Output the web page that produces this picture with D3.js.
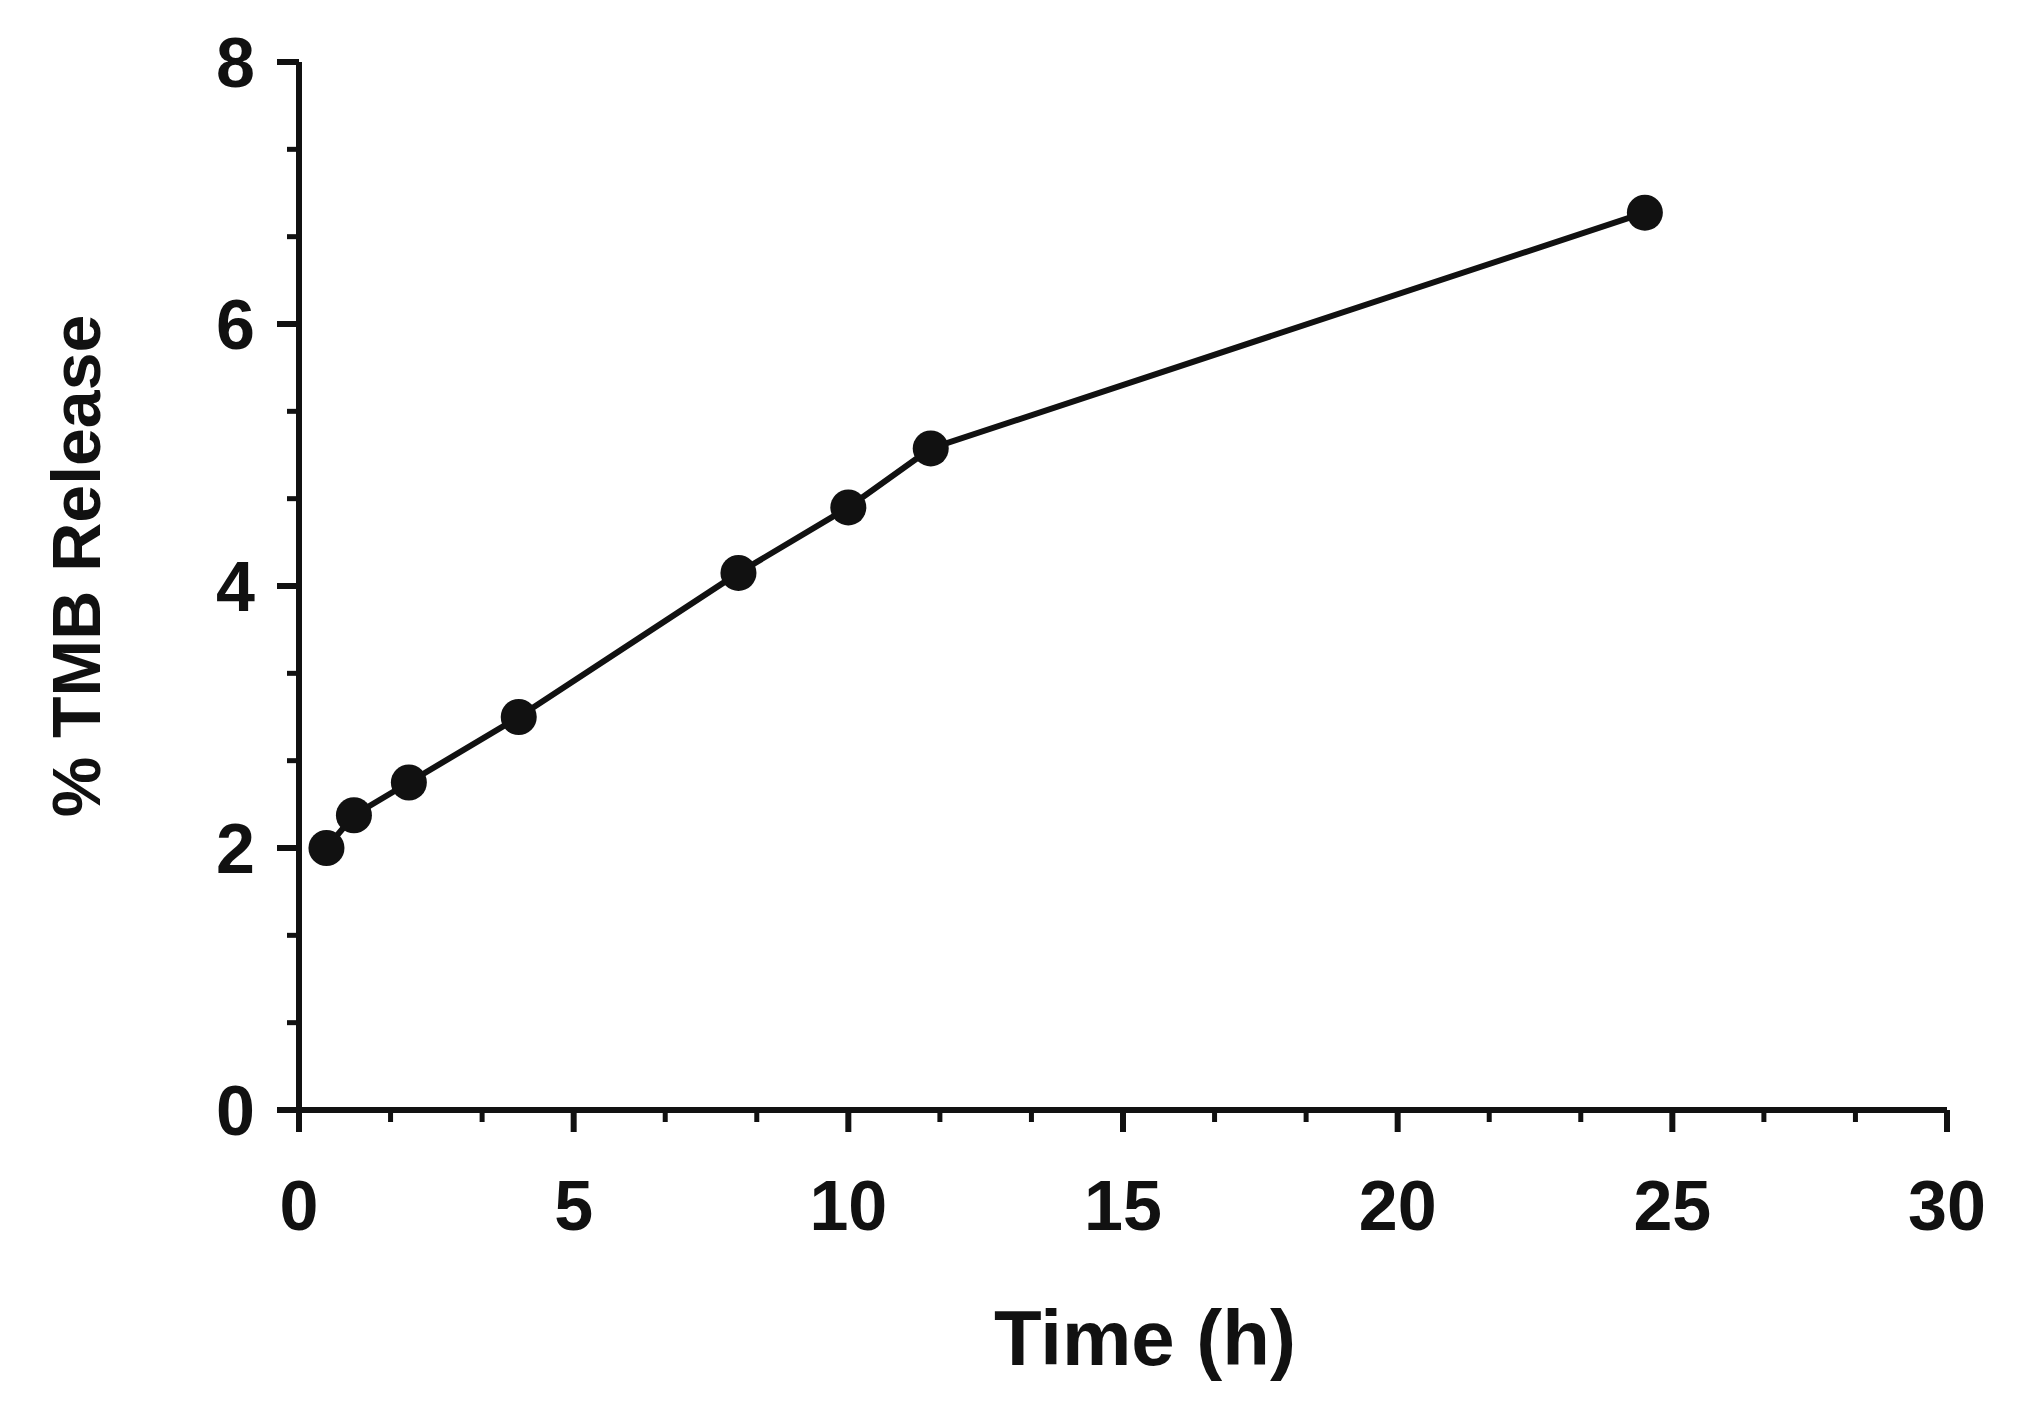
<!DOCTYPE html>
<html>
<head>
<meta charset="utf-8">
<script src="https://cdn.jsdelivr.net/npm/d3@7"></script>
<style>
  body { margin: 0; background: #fff; }
  text { font-family: "Liberation Sans", Arial, sans-serif; font-weight: bold; fill: #111; }
</style>
</head>
<body>
<svg id="chart" width="2017" height="1417"></svg>
<script>
const timeH = [0.5, 1, 2, 4, 8, 10, 11.5, 24.5];
const tmbRelease = [2.0, 2.25, 2.5, 3.0, 4.1, 4.6, 5.05, 6.85];
const xTicks = [0, 5, 10, 15, 20, 25, 30];
const yTicks = [0, 2, 4, 6, 8];

const svg = d3.select("#chart");
const x = d3.scaleLinear().domain([0, 30]).range([299, 1947]);
const y = d3.scaleLinear().domain([0, 8]).range([1110, 62]);

const ink = "#111";
const g = svg.append("g");

// axis lines
g.append("line").attr("x1", x(0)).attr("x2", x(30)).attr("y1", y(0)).attr("y2", y(0))
  .attr("stroke", ink).attr("stroke-width", 6);
g.append("line").attr("x1", x(0)).attr("x2", x(0)).attr("y1", y(0)).attr("y2", y(8))
  .attr("stroke", ink).attr("stroke-width", 6);

// x ticks (minor every 5/3)
const xMinor = d3.range(0, 18).map(i => i * 5 / 3).filter(v => Math.abs(v / 5 - Math.round(v / 5)) > 1e-6);
g.selectAll(".xmaj").data(xTicks).join("line")
  .attr("x1", d => x(d)).attr("x2", d => x(d)).attr("y1", y(0)).attr("y2", y(0) + 22)
  .attr("stroke", ink).attr("stroke-width", 6);
g.selectAll(".xmin").data(xMinor).join("line")
  .attr("x1", d => x(d)).attr("x2", d => x(d)).attr("y1", y(0)).attr("y2", y(0) + 12)
  .attr("stroke", ink).attr("stroke-width", 5);
g.selectAll(".xlab").data(xTicks).join("text")
  .attr("x", d => x(d)).attr("y", 1230).attr("text-anchor", "middle")
  .attr("font-size", 70).text(d => d);

// y ticks (minor every 2/3)
const yMinor = d3.range(0, 13).map(i => i * 2 / 3).filter(v => Math.abs(v / 2 - Math.round(v / 2)) > 1e-6);
g.selectAll(".ymaj").data(yTicks).join("line")
  .attr("x1", x(0) - 22).attr("x2", x(0)).attr("y1", d => y(d)).attr("y2", d => y(d))
  .attr("stroke", ink).attr("stroke-width", 6);
g.selectAll(".ymin").data(yMinor).join("line")
  .attr("x1", x(0) - 12).attr("x2", x(0)).attr("y1", d => y(d)).attr("y2", d => y(d))
  .attr("stroke", ink).attr("stroke-width", 5);
g.selectAll(".ylab").data(yTicks).join("text")
  .attr("x", 255).attr("y", d => y(d) + 25).attr("text-anchor", "end")
  .attr("font-size", 70).text(d => d);

// titles
svg.append("text").attr("x", 1145).attr("y", 1365).attr("text-anchor", "middle")
  .attr("font-size", 78).text("Time (h)");
svg.append("text").attr("transform", "translate(100,566) rotate(-90)").attr("text-anchor", "middle")
  .attr("font-size", 68).attr("font-weight", "normal").text("% TMB Release");

// series
const pts = timeH.map((t, i) => [t, tmbRelease[i]]);
g.append("path").datum(pts)
  .attr("d", d3.line().x(d => x(d[0])).y(d => y(d[1])))
  .attr("fill", "none").attr("stroke", ink).attr("stroke-width", 6);
g.selectAll(".pt").data(pts).join("circle")
  .attr("cx", d => x(d[0])).attr("cy", d => y(d[1])).attr("r", 18).attr("fill", ink);
</script>
</body>
</html>
